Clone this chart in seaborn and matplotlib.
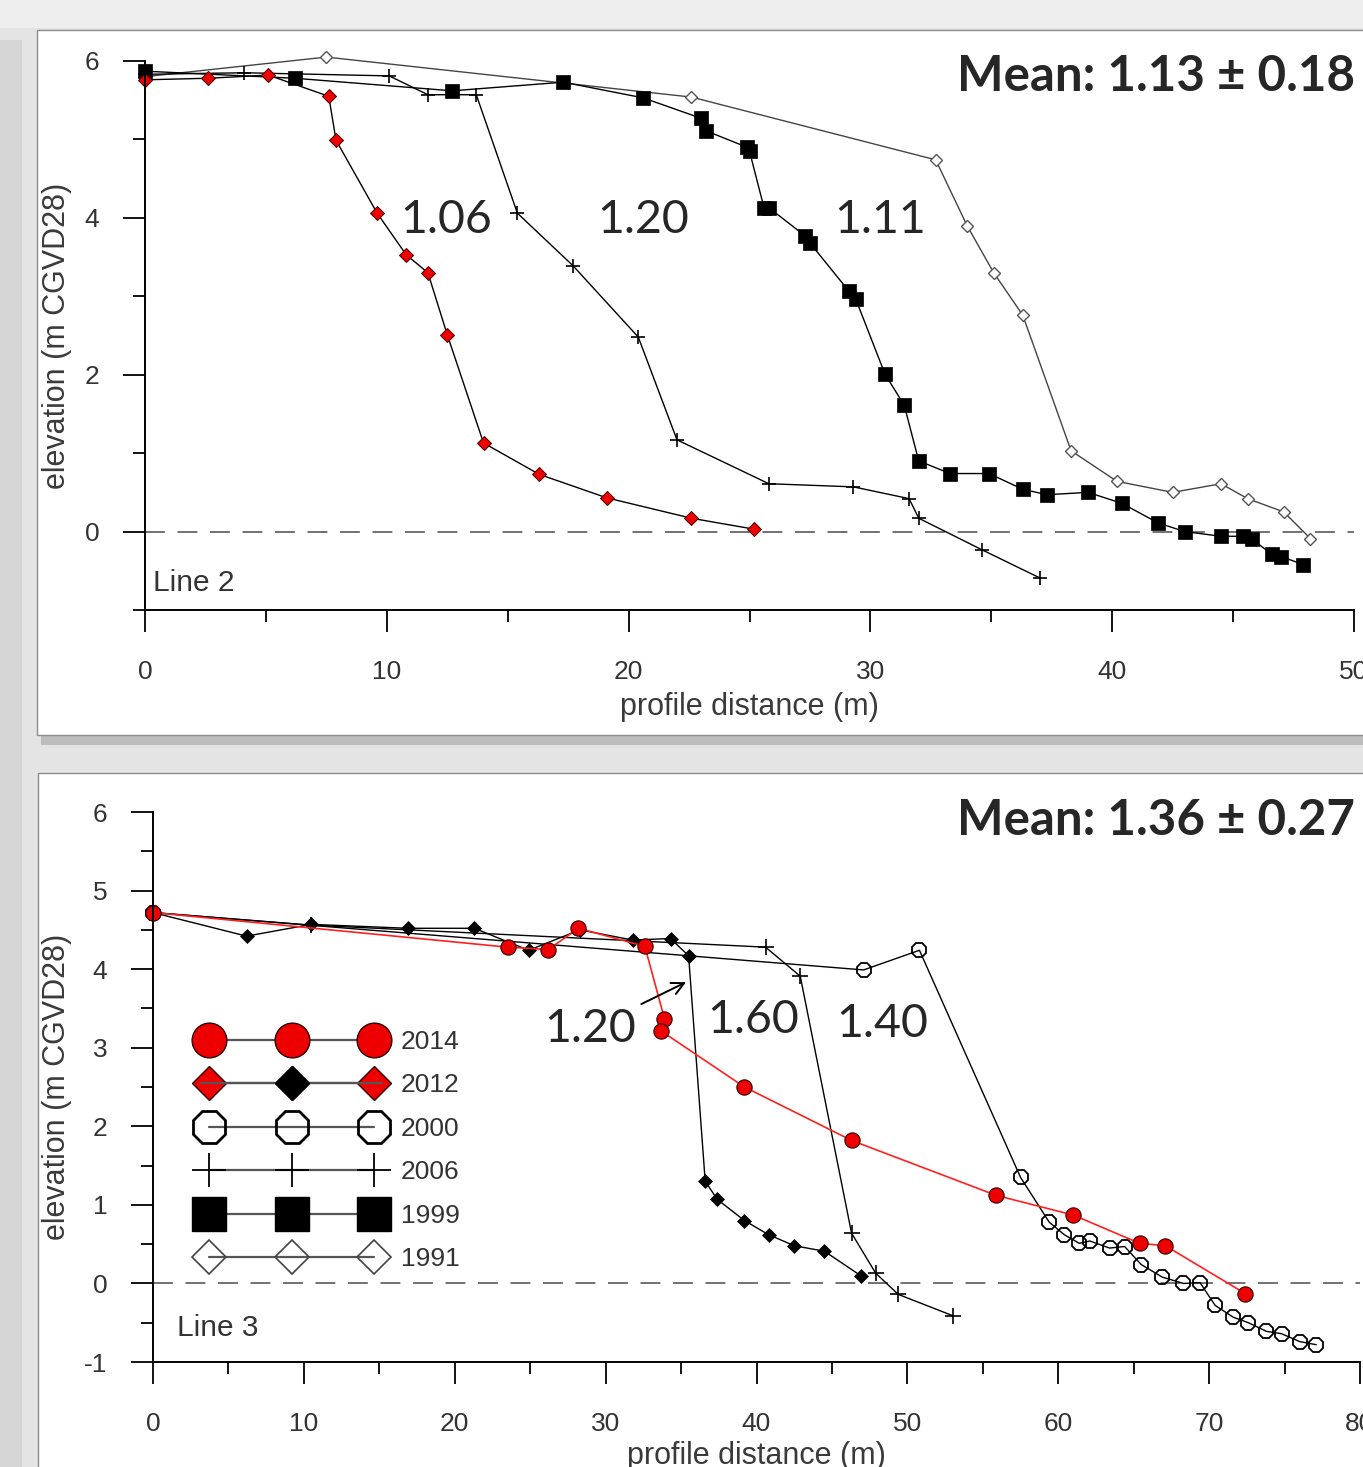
import seaborn as sns
import matplotlib.pyplot as plt
from matplotlib.patches import Rectangle
from matplotlib.lines import Line2D
from matplotlib.legend_handler import HandlerLine2D
from matplotlib.ticker import MultipleLocator

# ---- Line 2 profiles: profile distance (m) / elevation (m CGVD28)
l2_x_2012 = [0, 2.6, 5.1, 7.6, 7.9, 9.6, 10.8, 11.7, 12.5, 14.0, 16.3, 19.1, 22.6, 25.2]
l2_y_2012 = [5.76, 5.78, 5.82, 5.55, 4.99, 4.06, 3.53, 3.30, 2.51, 1.13, 0.73, 0.43, 0.17, 0.03]

l2_x_2006 = [0, 4.1, 10.1, 11.7, 13.7, 15.4, 17.7, 20.4, 22.0, 25.8, 29.3, 31.6, 32.0, 34.6, 37.0]
l2_y_2006 = [5.83, 5.85, 5.81, 5.57, 5.57, 4.06, 3.39, 2.48, 1.17, 0.61, 0.57, 0.42, 0.17, -0.23, -0.59]

l2_x_1999 = [0, 6.2, 12.7, 17.3, 20.6, 23.0, 23.2, 24.9, 25.0, 25.6, 25.8, 27.3, 27.5, 29.1, 29.4, 30.6,
             31.4, 32.0, 33.3, 34.9, 36.3, 37.3, 39.0, 40.4, 41.9, 43.0, 44.5, 45.4, 45.8, 46.6, 47.0, 47.9]
l2_y_1999 = [5.87, 5.78, 5.62, 5.73, 5.53, 5.27, 5.11, 4.90, 4.85, 4.13, 4.13, 3.77, 3.68, 3.07, 2.96, 2.01,
             1.61, 0.90, 0.74, 0.74, 0.54, 0.47, 0.50, 0.36, 0.11, 0.00, -0.06, -0.06, -0.10, -0.29, -0.32, -0.42]

l2_x_1991 = [0, 7.5, 22.6, 32.7, 34.0, 35.1, 36.3, 38.3, 40.2, 42.5, 44.5, 45.6, 47.1, 48.2]
l2_y_1991 = [5.80, 6.05, 5.54, 4.74, 3.90, 3.30, 2.76, 1.03, 0.64, 0.50, 0.61, 0.42, 0.25, -0.09]

l2_rates = ["1.06", "1.20", "1.11"]
l2_rate_x = [12.45, 20.6, 30.4]
l2_rate_y = [3.97, 3.97, 3.97]
l2_mean = "Mean: 1.13 ± 0.18"

# ---- Line 3 profiles
l3_x_2014 = [0, 23.5, 26.2, 28.2, 32.6, 33.9, 33.7, 39.2, 46.3, 55.9, 61.0, 65.4, 67.1, 72.4]
l3_y_2014 = [4.72, 4.28, 4.25, 4.52, 4.29, 3.37, 3.21, 2.50, 1.82, 1.12, 0.87, 0.51, 0.48, -0.13]

l3_x_2012 = [0, 6.2, 10.5, 16.9, 21.3, 24.9, 28.3, 31.8, 34.3, 35.5, 36.6, 37.4, 39.2, 40.8, 42.5, 44.5, 46.9]
l3_y_2012 = [4.72, 4.42, 4.57, 4.52, 4.52, 4.24, 4.50, 4.37, 4.39, 4.17, 1.30, 1.07, 0.80, 0.62, 0.48, 0.41, 0.10]

l3_x_2006 = [0, 10.5, 40.6, 42.9, 46.3, 47.9, 49.4, 53.0]
l3_y_2006 = [4.72, 4.56, 4.28, 3.91, 0.64, 0.13, -0.14, -0.41]

l3_x_2000 = [0, 47.1, 50.8, 57.5, 59.4, 60.4, 61.4, 62.1, 63.4, 64.4, 65.5, 66.9, 68.3, 69.4, 70.4,
             71.6, 72.6, 73.8, 74.8, 76.0, 77.1]
l3_y_2000 = [4.72, 3.99, 4.24, 1.35, 0.78, 0.62, 0.51, 0.54, 0.45, 0.47, 0.24, 0.08, 0.00, 0.01, -0.28,
             -0.43, -0.50, -0.61, -0.64, -0.74, -0.78]

l3_rates = ["1.20", "1.60", "1.40"]
l3_rate_x = [29.0, 39.8, 48.3]
l3_rate_y = [3.24, 3.35, 3.30]
l3_mean = "Mean: 1.36 ± 0.27"

legend_years = ["2014", "2012", "2000", "2006", "1999", "1991"]

sns.set_style("ticks")
plt.rcParams["font.family"] = ["Liberation Sans", "DejaVu Sans"]
plt.rcParams["axes.unicode_minus"] = False

W, H = 1363, 1467
fig = plt.figure(figsize=(W / 100, H / 100), dpi=100, facecolor="#e4e4e4")


def px_rect(x0, y0, x1, y1, **kw):
    fig.add_artist(Rectangle((x0 / W, 1 - y1 / H), (x1 - x0) / W, (y1 - y0) / H,
                             transform=fig.transFigure, **kw))


# slide background: two white boxes with a soft shadow
px_rect(0, 0, W, 28, fc="#eeeeee", ec="none", zorder=-5)
px_rect(0, 40, 22, H, fc="#d6d6d6", ec="none", zorder=-4)
px_rect(41, 37, 1375, 745, fc="#bdbdbd", ec="none", zorder=-3)
px_rect(37, 30, 1375, 735, fc="white", ec="#8c8c8c", lw=1, zorder=-2)
px_rect(42, 779, 1375, 1480, fc="#bdbdbd", ec="none", zorder=-3)
px_rect(38, 773, 1375, 1480, fc="white", ec="#8c8c8c", lw=1, zorder=-2)

ax1 = fig.add_axes([145 / W, 1 - 610 / H, (1354 - 145) / W, (610 - 61) / H])
ax2 = fig.add_axes([153 / W, 1 - 1362 / H, (1360 - 153) / W, (1362 - 812) / H])


def profile(ax, x, y, color="black", lw=1.0, **kw):
    sns.lineplot(x=x, y=y, ax=ax, sort=False, estimator=None, color=color, lw=lw,
                 clip_on=False, legend=False, **kw)


# Line 2
profile(ax1, l2_x_1991, l2_y_1991, color="#444444", marker="D", markersize=6.5,
        markerfacecolor="white", markeredgecolor="#555555", markeredgewidth=1)
profile(ax1, l2_x_1999, l2_y_1999, marker="s", markersize=10.5,
        markerfacecolor="black", markeredgecolor="black", markeredgewidth=0.5)
profile(ax1, l2_x_2006, l2_y_2006, marker="+", markersize=10,
        markeredgecolor="black", markeredgewidth=1.2)
profile(ax1, l2_x_2012, l2_y_2012, marker="D", markersize=7,
        markerfacecolor="#ee0000", markeredgecolor="#400000", markeredgewidth=0.7)

# Line 3
profile(ax2, l3_x_2000, l3_y_2000, marker="8", markersize=11,
        markerfacecolor="none", markeredgecolor="black", markeredgewidth=1.3)
profile(ax2, l3_x_2006, l3_y_2006, marker="+", markersize=11,
        markeredgecolor="black", markeredgewidth=1.2)
profile(ax2, l3_x_2012, l3_y_2012, marker="D", markersize=7.5,
        markerfacecolor="black", markeredgecolor="black", markeredgewidth=0.5)
profile(ax2, l3_x_2014, l3_y_2014, color="#ff2020", lw=1.2, marker="o", markersize=11,
        markerfacecolor="#ee0000", markeredgecolor="#300000", markeredgewidth=0.8)

for ax, xmax, ymaj, ymin in [(ax1, 50, 2, 1), (ax2, 80, 1, 0.5)]:
    ax.set_facecolor("none")
    ax.set_xlim(0, xmax)
    ax.set_ylim(-1, 6)
    ax.axhline(0, color="#666666", lw=1.3, dashes=(11, 7), zorder=0)
    ax.xaxis.set_major_locator(MultipleLocator(10))
    ax.xaxis.set_minor_locator(MultipleLocator(5))
    ax.yaxis.set_major_locator(MultipleLocator(ymaj))
    ax.yaxis.set_minor_locator(MultipleLocator(ymin))
    sns.despine(ax=ax)
    for s in ("left", "bottom"):
        ax.spines[s].set_linewidth(1.4)
        ax.spines[s].set_color("black")
    ax.tick_params(which="major", length=16, width=1.3, color="black", pad=17,
                   labelsize=19, labelcolor="#333333")
    ax.tick_params(axis="x", which="major", pad=20)
    ax.tick_params(which="minor", length=8.5, width=1.3, color="black")
    ax.set_xlabel("profile distance (m)", fontsize=22, color="#3a3a3a")
    ax.set_ylabel("elevation (m CGVD28)", fontsize=22, color="#3a3a3a")

ax1.xaxis.set_label_coords(0.5, -0.150)
ax1.yaxis.set_label_coords(-0.060, 0.5)
ax2.xaxis.set_label_coords(0.5, -0.143)
ax2.yaxis.set_label_coords(-0.067, 0.5)

ax1.text(0.007, 0.049, "Line 2", transform=ax1.transAxes, fontsize=21.5, color="#333333",
         ha="left", va="center")
ax2.text(0.02, 0.062, "Line 3", transform=ax2.transAxes, fontsize=21.5, color="#333333",
         ha="left", va="center")

big = ["Lato", "DejaVu Sans"]
ax1.text(1.0008, 0.972, l2_mean, transform=ax1.transAxes, family=big, fontsize=35.5,
         fontweight="bold", ha="right", va="center", clip_on=False)
ax2.text(0.996, 0.985, l3_mean, transform=ax2.transAxes, family=big, fontsize=35.5,
         fontweight="bold", ha="right", va="center", clip_on=False)
for t, x, y in zip(l2_rates, l2_rate_x, l2_rate_y):
    ax1.text(x, y, t, family=big, fontsize=33.5, ha="center", va="center")
for t, x, y in zip(l3_rates, l3_rate_x, l3_rate_y):
    ax2.text(x, y, t, family=big, fontsize=33.5, ha="center", va="center")
ax2.annotate("", xy=(35.5, 3.85), xytext=(32.2, 3.54),
             arrowprops=dict(arrowstyle="->", color="black", lw=1.4, mutation_scale=22))

# legend for Line 3
lk = dict(color="#555555", lw=1.6)
h2014 = Line2D([], [], marker="o", ms=25, mfc="#ee0000", mec="#300000", mew=1, **lk)
h2012a = Line2D([], [], marker="D", ms=17, mfc="#ee0000", mec="#300000", mew=1, **lk)
h2012b = Line2D([], [], marker="D", ms=17, mfc="black", mec="black", mew=1, **lk)
h2000 = Line2D([], [], marker="8", ms=25, mfc="none", mec="black", mew=2, **lk)
h2006 = Line2D([], [], marker="+", ms=25, mec="black", mew=1.3, **lk)
h1999 = Line2D([], [], marker="s", ms=25, mfc="black", mec="black", **lk)
h1991 = Line2D([], [], marker="D", ms=17, mfc="none", mec="#444444", mew=1.2, **lk)
handles = [h2014, (h2012a, h2012b), h2000, h2006, h1999, h1991]
ax2.legend(handles, legend_years, loc="upper left", bbox_to_anchor=(0.040, 0.604),
           frameon=False, numpoints=3, fontsize=19, labelcolor="#333333",
           handlelength=6.85, handletextpad=0.72, labelspacing=0.74,
           borderpad=0, borderaxespad=0,
           handler_map={h2012b: HandlerLine2D(numpoints=1)})

fig.savefig("out.png", dpi=100, facecolor=fig.get_facecolor())
